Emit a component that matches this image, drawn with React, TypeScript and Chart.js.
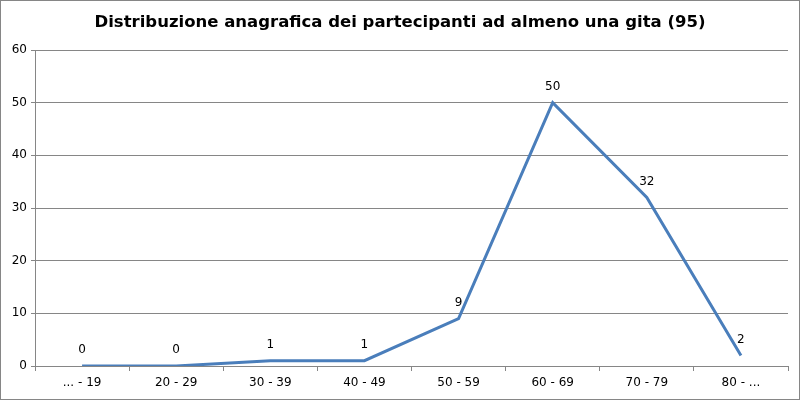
import { useEffect, useRef } from 'react';
import { Chart, registerables, Plugin } from 'chart.js';

Chart.register(...registerables);

const ageGroups = ['... - 19', '20 - 29', '30 - 39', '40 - 49', '50 - 59', '60 - 69', '70 - 79', '80 - ...'];
const participants = [0, 0, 1, 1, 9, 50, 32, 2];
const yTicks = [0, 10, 20, 30, 40, 50, 60];

const chartTitle = 'Distribuzione anagrafica dei partecipanti ad almeno una gita (95)';

const frameAndLabels: Plugin<'line'> = {
  id: 'frameAndLabels',
  afterDraw(chart) {
    const { ctx } = chart;
    ctx.save();
    // outer frame
    ctx.strokeStyle = '#868686';
    ctx.lineWidth = 1;
    ctx.strokeRect(0.5, 0.5, chart.width - 1, chart.height - 1);

    // title
    ctx.fillStyle = '#000';
    ctx.font = 'bold 16.5px "DejaVu Sans", Verdana, sans-serif';
    ctx.textAlign = 'center';
    ctx.textBaseline = 'middle';
    ctx.fillText(chartTitle, chart.width / 2, 23);

    // value labels
    ctx.font = '12px "DejaVu Sans", Verdana, sans-serif';
    const meta = chart.getDatasetMeta(0);
    meta.data.forEach((pt, i) => {
      ctx.fillText(String(participants[i]), pt.x, pt.y - 16);
    });
    ctx.restore();
  },
};

const App = () => {
  const chartRef = useRef<HTMLCanvasElement | null>(null);
  const chartInstance = useRef<Chart | null>(null);

  useEffect(() => {
    document.body.style.margin = '0';
    if (chartInstance.current) {
      chartInstance.current.destroy();
    }
    if (!chartRef.current) return;

    chartInstance.current = new Chart(chartRef.current, {
      type: 'line',
      data: {
        labels: ageGroups,
        datasets: [
          {
            data: participants,
            borderColor: '#4a7ebb',
            borderWidth: 3,
            pointRadius: 0,
            tension: 0,
            fill: false,
          },
        ],
      },
      options: {
        responsive: false,
        animation: false,
        layout: { padding: { top: 50, right: 12, left: 0, bottom: 0 } },
        plugins: {
          legend: { display: false },
          title: { display: false },
          tooltip: { enabled: false },
        },
        scales: {
          x: {
            offset: true,
            grid: {
              drawOnChartArea: false,
              drawTicks: true,
              tickLength: 5,
              color: '#868686',
              offset: true,
            },
            border: { color: '#868686' },
            ticks: {
              color: '#000',
              font: { family: '"DejaVu Sans", Verdana, sans-serif', size: 12 },
              padding: 5,
            },
            afterFit: (scale) => {
              scale.height = 34;
            },
          },
          y: {
            min: 0,
            max: 60,
            afterBuildTicks: (scale) => {
              scale.ticks = yTicks.map((v) => ({ value: v }));
            },
            grid: {
              color: '#868686',
              tickLength: 4,
            },
            border: { color: '#868686' },
            ticks: {
              color: '#000',
              font: { family: '"DejaVu Sans", Verdana, sans-serif', size: 12 },
              padding: 4,
            },
            afterFit: (scale) => {
              scale.width = 35;
            },
          },
        },
      },
      plugins: [frameAndLabels],
    });

    return () => {
      if (chartInstance.current) {
        chartInstance.current.destroy();
        chartInstance.current = null;
      }
    };
  }, []);

  return (
    <canvas
      ref={chartRef}
      width={800}
      height={400}
      style={{ display: 'block', width: 800, height: 400, background: '#fff' }}
    />
  );
};

export default App;
